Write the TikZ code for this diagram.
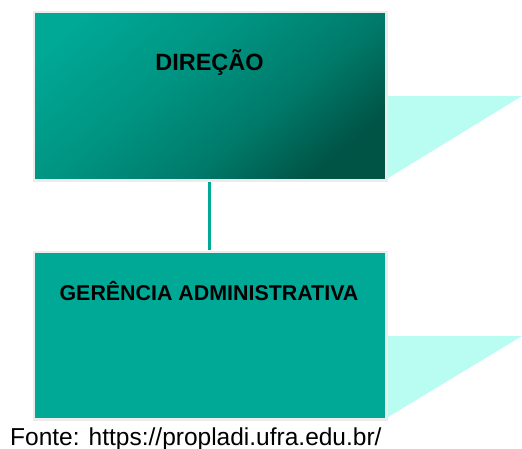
\documentclass[tikz,border=0pt]{standalone}
\usepackage{fontspec}
\setmainfont{Liberation Sans}
\definecolor{tealA}{RGB}{0,168,150}
\definecolor{tealB}{RGB}{0,148,130}
\definecolor{tealC}{RGB}{0,122,106}
\definecolor{tealDark}{RGB}{0,84,70}
\definecolor{lightcyan}{RGB}{184,252,242}
\definecolor{boxborder}{RGB}{236,236,236}
\pgfdeclareverticalshading{dirshade}{100bp}{color(0bp)=(tealDark); color(25bp)=(tealDark); color(40bp)=(tealC); color(58bp)=(tealB); color(78bp)=(tealA); color(100bp)=(tealA)}
\tikzset{
  orgbox/.style={draw=boxborder, line width=2.5pt, minimum width=352.5pt, inner sep=0pt, outer sep=0pt},
  flap/.style={fill=lightcyan, draw=none},
  label/.style={font=\bfseries\fontsize{23.5}{26}\selectfont, inner sep=0pt, anchor=base},
  link/.style={draw=tealA, line width=3pt},
}
\begin{document}
\begin{tikzpicture}[x=1pt,y=-1pt]
\useasboundingbox (0,0) rectangle (522,448);
% flaps
\fill[flap] (386.5,96) -- (522,96) -- (386.5,179) -- cycle;
\fill[flap] (386.5,336) -- (522,336) -- (386.5,418) -- cycle;
% boxes
\node[orgbox, minimum height=168.5pt, shading=dirshade, shading angle=40] (dir) at (210,96) {};
\node[orgbox, minimum height=167.5pt, fill=tealA] (ger) at (210,335.5) {};
% connector
\draw[link, shorten <=1.5pt, shorten >=1.5pt] (dir.south -| 209,0) -- (ger.north -| 209,0);
% labels
\node[label] (dirtext) at (209.5,70) {DIREÇÃO};
\node[label, font=\bfseries\fontsize{21.4}{24}\selectfont] (gertext) at (209,300) {GERÊNCIA ADMINISTRATIVA};
\node[anchor=base west, inner sep=0pt, font=\fontsize{24.5}{27}\selectfont] (fonte) at (10,445) {Fonte: https://propladi.ufra.edu.br/};
\end{tikzpicture}
\end{document}
